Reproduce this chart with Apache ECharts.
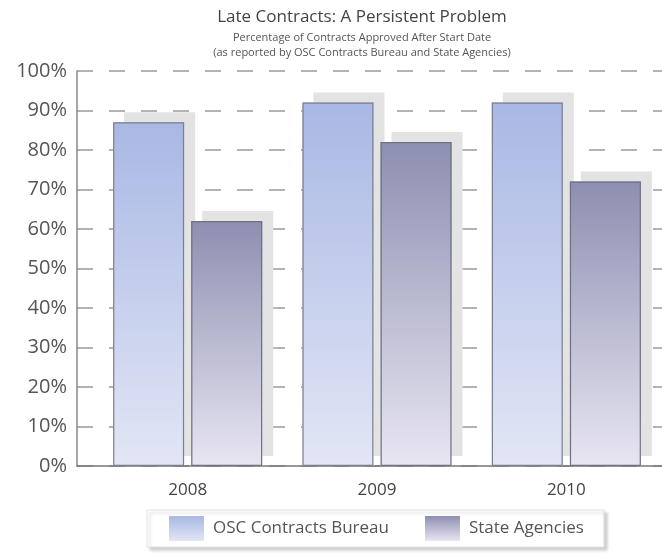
<!DOCTYPE html>
<html>
<head>
<meta charset="utf-8">
<script src="https://cdn.jsdelivr.net/npm/echarts@6/dist/echarts.min.js"></script>
<style>html,body{margin:0;padding:0;background:#fff;}#c{width:662px;height:557px;}</style>
</head>
<body>
<div id="c"></div>
<script>
var categories = ['2008', '2009', '2010'];
var seriesNames = ['OSC Contracts Bureau', 'State Agencies'];
var oscValues = [87, 92, 92];
var stateValues = [62, 82, 72];
var yTicks = [0, 10, 20, 30, 40, 50, 60, 70, 80, 90, 100];

var FONT = '"Open Sans", "Noto Sans", sans-serif';
function grad(top, bottom) {
  return new echarts.graphic.LinearGradient(0, 0, 0, 1, [
    {offset: 0, color: top}, {offset: 1, color: bottom}
  ]);
}
var chart = echarts.init(document.getElementById('c'), null, {renderer: 'canvas'});
var yMin = yTicks[0], yMax = yTicks[yTicks.length - 1];
var shadow = {shadowColor: '#e3e3e3', shadowBlur: 0, shadowOffsetX: 11, shadowOffsetY: -10};
chart.setOption({
  animation: false,
  backgroundColor: '#fff',
  title: {
    text: 'Late Contracts: A Persistent Problem',
    subtext: 'Percentage of Contracts Approved After Start Date\n(as reported by OSC Contracts Bureau and State Agencies)',
    left: 362, top: 9, textAlign: 'center', itemGap: 4, padding: 0,
    textStyle: {fontFamily: FONT, fontSize: 17, fontWeight: 'normal', color: '#444'},
    subtextStyle: {fontFamily: FONT, fontSize: 11, color: '#555', lineHeight: 15}
  },
  legend: {
    data: seriesNames,
    left: 147, top: 510,
    padding: [6, 20, 6, 22],
    itemWidth: 35, itemHeight: 25, itemGap: 36,
    icon: 'rect',
    backgroundColor: '#fff',
    borderColor: '#e2e2e2', borderWidth: 1,
    shadowColor: 'rgba(0,0,0,0.18)', shadowBlur: 3, shadowOffsetX: 3, shadowOffsetY: 3,
    itemStyle: {borderWidth: 0, shadowColor: 'transparent', shadowOffsetX: 0, shadowOffsetY: 0},
    textStyle: {fontFamily: FONT, fontSize: 17, color: '#555', padding: [0, 0, 0, 4]}
  },
  grid: [
    {left: 77, right: 0, top: 71, bottom: 91},
    {left: 93, right: 1, top: 71, bottom: 91},
    {left: 93, right: 1, top: 71, bottom: 91}
  ],
  xAxis: [
    {gridIndex: 0, type: 'value', min: 0, max: 1,
     axisLine: {show: true, onZero: false, lineStyle: {color: '#777', width: 1.5}},
     axisTick: {show: false}, axisLabel: {show: false}, splitLine: {show: false}},
    {gridIndex: 1, type: 'category', data: categories,
     axisLine: {show: false}, axisTick: {show: false},
     axisLabel: {fontFamily: FONT, fontSize: 17, color: '#444', margin: 16}},
    {gridIndex: 2, type: 'category', data: categories, show: false}
  ],
  yAxis: [
    {gridIndex: 0, type: 'value', min: yMin, max: yMax, interval: 10,
     axisLine: {show: true, lineStyle: {color: '#888', width: 1.5}},
     axisTick: {show: false},
     axisLabel: {fontFamily: FONT, fontSize: 20, color: '#555', margin: 10,
                 formatter: function (v) { return v + '%'; }},
     splitLine: {show: true, lineStyle: {color: '#9a9a9a', width: 1.5, type: [16, 16], dashOffset: 0}}},
    {gridIndex: 1, type: 'value', min: yMin, max: yMax, show: false, splitLine: {show: false}},
    {gridIndex: 2, type: 'value', min: yMin, max: yMax, show: false, splitLine: {show: false}}
  ],
  series: [
    {type: 'bar', name: seriesNames[0], xAxisIndex: 1, yAxisIndex: 1, barWidth: 71, barGap: '10%',
     data: oscValues, z: 2,
     itemStyle: Object.assign({color: grad('#a9b8e4', '#e2e6f5'), borderWidth: 0}, shadow)},
    {type: 'bar', name: seriesNames[1], xAxisIndex: 1, yAxisIndex: 1, barWidth: 71, barGap: '10%',
     data: stateValues, z: 2,
     itemStyle: Object.assign({color: grad('#8d8fb1', '#e8e6f2'), borderWidth: 0}, shadow)},
    {type: 'bar', name: 'osc-outline', xAxisIndex: 2, yAxisIndex: 2, barWidth: 71, barGap: '10%',
     data: oscValues, z: 3, silent: true,
     itemStyle: {color: 'transparent', borderColor: '#7d7f8c', borderWidth: 1.2}},
    {type: 'bar', name: 'state-outline', xAxisIndex: 2, yAxisIndex: 2, barWidth: 71, barGap: '10%',
     data: stateValues, z: 3, silent: true,
     itemStyle: {color: 'transparent', borderColor: '#6f7080', borderWidth: 1.2}}
  ]
});
</script>
</body>
</html>
